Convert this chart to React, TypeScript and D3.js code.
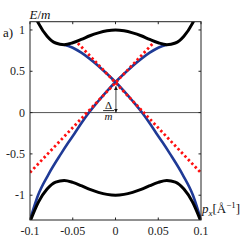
import React, { useEffect, useRef } from "react";
import * as d3 from "d3";

// black outer bands
const bandP = [-0.1, -0.09, -0.08, -0.07, -0.06, -0.05, -0.04, -0.03, -0.02, -0.01, 0, 0.01, 0.02, 0.03, 0.04, 0.05, 0.06, 0.07, 0.08, 0.09, 0.1];
const upperBand = [1.32, 1.08, 0.925, 0.842, 0.822, 0.845, 0.885, 0.93, 0.965, 0.99, 1.0, 0.99, 0.965, 0.93, 0.885, 0.845, 0.822, 0.842, 0.925, 1.08, 1.32];
const lowerBand = [-1.32, -1.08, -0.925, -0.842, -0.822, -0.845, -0.885, -0.93, -0.965, -0.99, -1.0, -0.99, -0.965, -0.93, -0.885, -0.845, -0.822, -0.842, -0.925, -1.08, -1.32];

// blue inner branches
const blueAP = [-0.1, -0.0906, -0.0785, -0.0638, -0.055, -0.0477, -0.04, -0.031, -0.02, -0.01, 0, 0.01, 0.02, 0.03, 0.04, 0.05, 0.06];
const blueAE = [-1.3, -1.0, -0.75, -0.5, -0.36, -0.25, -0.13, 0, 0.14, 0.26, 0.37, 0.47, 0.565, 0.65, 0.725, 0.785, 0.82];
const blueBP = [-0.06, -0.05, -0.04, -0.03, -0.02, -0.01, 0, 0.01, 0.02, 0.031, 0.04, 0.0477, 0.055, 0.0638, 0.0785, 0.0906, 0.1];
const blueBE = [0.82, 0.785, 0.725, 0.65, 0.565, 0.47, 0.37, 0.26, 0.14, 0, -0.13, -0.25, -0.36, -0.5, -0.75, -1.0, -1.3];

// red dotted linear approximations
const redAP = [-0.1, 0.044];
const redAE = [-0.725, 0.84];
const redBP = [-0.044, 0.1];
const redBE = [0.84, -0.73];

const xTicks = [-0.1, -0.05, 0, 0.05, 0.1];
const xTickLabels = ["-0.1", "-0.05", "0", "0.05", "0.1"];
const yTicks = [-1, -0.5, 0, 0.5, 1];
const yTickLabels = ["-1", "-0.5", "0", "0.5", "1"];
const gapArrow = [0, 0.32];

const W = 245;
const H = 245;
const serif = "Times New Roman, Liberation Serif, DejaVu Serif, serif";

const App = () => {
  const ref = useRef<SVGSVGElement>(null);

  useEffect(() => {
    const svg = d3.select(ref.current);
    svg.selectAll("*").remove();

    const x = d3.scaleLinear().domain([-0.1, 0.1]).range([30, 201]);
    const y = d3.scaleLinear().domain([-1.3, 1.1]).range([220, 21.7]);

    const defs = svg.append("defs");
    defs
      .append("clipPath")
      .attr("id", "plot")
      .append("rect")
      .attr("x", x(-0.1))
      .attr("y", y(1.1))
      .attr("width", x(0.1) - x(-0.1))
      .attr("height", y(-1.3) - y(1.1));
    const marker = defs
      .append("marker")
      .attr("id", "head")
      .attr("viewBox", "0 0 10 10")
      .attr("refX", 10)
      .attr("refY", 5)
      .attr("markerWidth", 4)
      .attr("markerHeight", 4)
      .attr("markerUnits", "userSpaceOnUse")
      .attr("orient", "auto-start-reverse");
    marker.append("path").attr("d", "M0,0L10,5L0,10Z").attr("fill", "#111");

    // zero line
    svg
      .append("line")
      .attr("x1", x(-0.1))
      .attr("x2", x(0.1))
      .attr("y1", y(0))
      .attr("y2", y(0))
      .attr("stroke", "#555")
      .attr("stroke-width", 1);

    const line = d3
      .line<[number, number]>()
      .x((d) => x(d[0]))
      .y((d) => y(d[1]))
      .curve(d3.curveMonotoneX);
    const straight = d3
      .line<[number, number]>()
      .x((d) => x(d[0]))
      .y((d) => y(d[1]));

    const g = svg.append("g").attr("clip-path", "url(#plot)");

    const zip = (ps: number[], es: number[]) => ps.map((p, i) => [p, es[i]] as [number, number]);

    [zip(blueAP, blueAE), zip(blueBP, blueBE)].forEach((d) => {
      g.append("path")
        .attr("d", line(d))
        .attr("fill", "none")
        .attr("stroke", "#1f3a96")
        .attr("stroke-width", 2.6);
    });

    [zip(bandP, upperBand), zip(bandP, lowerBand)].forEach((d) => {
      g.append("path")
        .attr("d", line(d))
        .attr("fill", "none")
        .attr("stroke", "#000")
        .attr("stroke-width", 3);
    });

    [zip(redAP, redAE), zip(redBP, redBE)].forEach((d) => {
      g.append("path")
        .attr("d", straight(d))
        .attr("fill", "none")
        .attr("stroke", "#ff1010")
        .attr("stroke-width", 2.8)
        .attr("stroke-dasharray", "2.4 2.6");
    });

    // frame
    svg
      .append("rect")
      .attr("x", x(-0.1))
      .attr("y", y(1.1))
      .attr("width", x(0.1) - x(-0.1))
      .attr("height", y(-1.3) - y(1.1))
      .attr("fill", "none")
      .attr("stroke", "#222")
      .attr("stroke-width", 1);

    // ticks, inward on all sides
    xTicks.forEach((t, i) => {
      svg.append("line").attr("x1", x(t)).attr("x2", x(t)).attr("y1", y(-1.3)).attr("y2", y(-1.3) - 2.5).attr("stroke", "#222");
      svg.append("line").attr("x1", x(t)).attr("x2", x(t)).attr("y1", y(1.1)).attr("y2", y(1.1) + 2.5).attr("stroke", "#222");
      svg
        .append("text")
        .attr("x", x(t))
        .attr("y", 235)
        .attr("text-anchor", "middle")
        .style("font-family", serif)
        .attr("font-size", 12)
        .attr("fill", "#222")
        .text(xTickLabels[i]);
    });
    yTicks.forEach((t, i) => {
      svg.append("line").attr("x1", x(-0.1)).attr("x2", x(-0.1) + 2.5).attr("y1", y(t)).attr("y2", y(t)).attr("stroke", "#222");
      svg.append("line").attr("x1", x(0.1)).attr("x2", x(0.1) - 2.5).attr("y1", y(t)).attr("y2", y(t)).attr("stroke", "#222");
      svg
        .append("text")
        .attr("x", 25)
        .attr("y", y(t) + 4)
        .attr("text-anchor", "end")
        .style("font-family", serif)
        .attr("font-size", 12)
        .attr("fill", "#222")
        .text(yTickLabels[i]);
    });

    // gap arrow
    svg
      .append("line")
      .attr("x1", x(0.0005))
      .attr("x2", x(0.0005))
      .attr("y1", y(gapArrow[0]))
      .attr("y2", y(gapArrow[1]))
      .attr("stroke", "#111")
      .attr("stroke-width", 0.8)
      .attr("marker-start", "url(#head)")
      .attr("marker-end", "url(#head)");

    const fx = 108.6;
    svg
      .append("text")
      .attr("x", fx)
      .attr("y", 109)
      .attr("text-anchor", "middle")
      .style("font-family", serif)
      .attr("font-size", 11)
      .attr("fill", "#111")
      .text("Δ");
    svg
      .append("line")
      .attr("x1", fx - 5.5)
      .attr("x2", fx + 5.5)
      .attr("y1", 110.6)
      .attr("y2", 110.6)
      .attr("stroke", "#111")
      .attr("stroke-width", 0.9);
    svg
      .append("text")
      .attr("x", fx)
      .attr("y", 120)
      .attr("text-anchor", "middle")
      .style("font-family", serif)
      .attr("font-size", 11)
      .attr("font-style", "italic")
      .attr("fill", "#111")
      .text("m");

    // axis titles
    const yt = svg
      .append("text")
      .attr("x", 29.5)
      .attr("y", 19)
      .style("font-family", serif)
      .attr("font-size", 13)
      .attr("fill", "#111");
    yt.append("tspan").attr("font-style", "italic").text("E");
    yt.append("tspan").text("/");
    yt.append("tspan").attr("font-style", "italic").text("m");

    const xt = svg
      .append("text")
      .attr("x", 202)
      .attr("y", 213)
      .style("font-family", serif)
      .attr("font-size", 13)
      .attr("fill", "#111");
    xt.append("tspan").attr("font-style", "italic").text("p");
    xt.append("tspan").attr("font-style", "italic").attr("font-size", 9).attr("dy", 2.5).text("x");
    xt.append("tspan").attr("dy", -2.5).text("[Å");
    xt.append("tspan").attr("font-size", 9).attr("dy", -5).text("−1");
    xt.append("tspan").attr("dy", 5).text("]");

    svg
      .append("text")
      .attr("x", 3)
      .attr("y", 37)
      .style("font-family", serif)
      .attr("font-size", 13)
      .attr("fill", "#111")
      .text("a)");
  }, []);

  return (
    <svg
      ref={ref}
      width={W}
      height={H}
      style={{ position: "absolute", left: 0, top: 0, background: "#fff" }}
    />
  );
};

export default App;
